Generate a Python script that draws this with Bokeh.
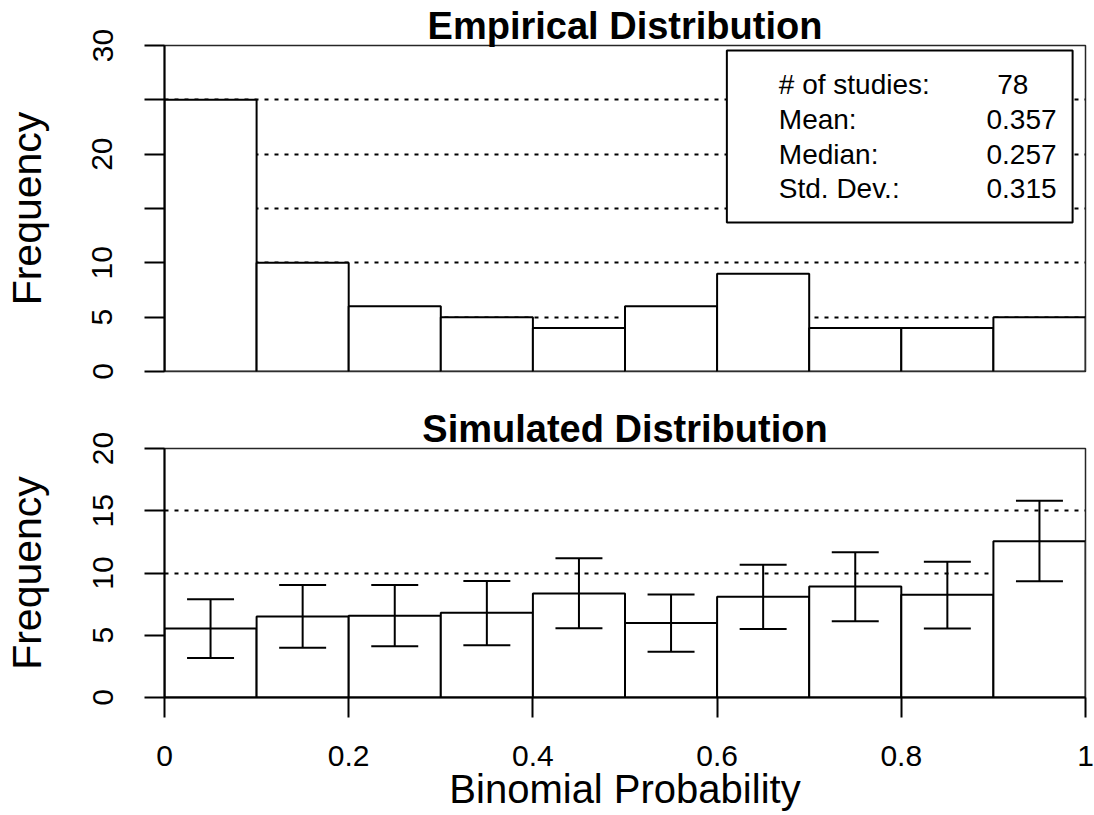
from bokeh.plotting import figure
from bokeh.models import Range1d, FixedTicker, Title
from bokeh.layouts import column
from bokeh.embed import file_html
from bokeh.resources import INLINE
from bokeh.core.properties import value

# ---------------- data ----------------
bin_edges = [0.0, 0.1, 0.2, 0.3, 0.4, 0.5, 0.6, 0.7, 0.8, 0.9, 1.0]
empirical_counts = [25, 10, 6, 5, 4, 6, 9, 4, 4, 5]
sim_means = [5.54, 6.50, 6.56, 6.80, 8.36, 5.99, 8.09, 8.92, 8.25, 12.56]
sim_lower = [3.17, 4.00, 4.11, 4.19, 5.56, 3.68, 5.51, 6.13, 5.54, 9.33]
sim_upper = [7.90, 9.03, 9.03, 9.35, 11.18, 8.28, 10.67, 11.67, 10.91, 15.80]
stat_names = ["# of studies:", "Mean:", "Median:", "Std. Dev.:"]
stat_values = ["78", "0.357", "0.257", "0.315"]
x_ticks = [0, 0.2, 0.4, 0.6, 0.8, 1.0]
x_tick_labels = ["0", "0.2", "0.4", "0.6", "0.8", "1"]
top_y_ticks = [0, 5, 10, 15, 20, 25, 30]
top_y_labels = ["0", "5", "10", "", "20", "", "30"]
bot_y_ticks = [0, 5, 10, 15, 20]
bot_y_labels = ["0", "5", "10", "15", "20"]
top_grid = [5, 10, 15, 20, 25]
bot_grid = [10, 15]

FONT = "Liberation Sans"
lefts = bin_edges[:-1]
rights = bin_edges[1:]
centers = [(a + b) / 2 for a, b in zip(lefts, rights)]


def style_axis(ax, ticks, labels, label_text, label_standoff, tick_standoff, vertical):
    ax.ticker = FixedTicker(ticks=ticks)
    ax.major_label_overrides = {t: l for t, l in zip(ticks, labels)}
    if vertical:
        ax.major_label_orientation = "vertical"
    ax.major_label_text_font = FONT
    ax.major_label_text_font_size = "30px"
    ax.major_label_text_color = "black"
    ax.major_label_standoff = tick_standoff
    ax.major_tick_out = 20
    ax.major_tick_in = 0
    ax.minor_tick_line_color = None
    ax.axis_line_width = 2
    ax.major_tick_line_width = 2
    ax.axis_line_color = "black"
    ax.major_tick_line_color = "black"
    ax.axis_label = label_text
    ax.axis_label_text_font = FONT
    ax.axis_label_text_font_size = "41px" if vertical else "40px"
    ax.axis_label_text_font_style = "normal"
    ax.axis_label_text_color = "black"
    ax.axis_label_standoff = label_standoff


def style_common(p, grid_ticks, title_text):
    p.xgrid.grid_line_color = None
    p.ygrid.ticker = FixedTicker(ticks=grid_ticks)
    p.ygrid.grid_line_color = "black"
    p.ygrid.grid_line_width = 2
    p.ygrid.grid_line_dash = "4 6"
    p.outline_line_color = "black"
    p.outline_line_width = 1.5
    p.outline_line_alpha = 0.85
    p.title = Title(text=title_text, align="center", text_font=FONT,
                    text_font_size="38px", text_font_style="bold",
                    text_color="black", standoff=-2)


# ---------------- top panel ----------------
p1 = figure(width=1094, height=400, x_range=Range1d(0, 1), y_range=Range1d(0, 30),
            x_axis_location=None,
            output_backend="svg", toolbar_location=None,
            min_border_left=163, min_border_right=9,
            min_border_top=45, min_border_bottom=29)
style_axis(p1.yaxis[0], top_y_ticks, top_y_labels, "Frequency", 40, 32, True)
style_common(p1, top_grid, "Empirical Distribution")

p1.quad(left=lefts, right=rights, bottom=0, top=empirical_counts,
        fill_color="white", line_color="black", line_width=2)

# stats box
p1.quad(left=[0.6106], right=[0.986], bottom=[13.71], top=[29.54],
        fill_color="white", line_color="black", line_width=2)
row_y = [26.4, 23.2, 20.0, 16.85]
p1.text(x=[0.667] * 4, y=row_y, text=stat_names, text_font=value(FONT),
        text_font_size="28px", text_align="left", text_baseline="alphabetic",
        text_color="black")
p1.text(x=[0.938, 0.9686, 0.9686, 0.9686], y=row_y, text=stat_values,
        text_font=value(FONT), text_font_size="28px", text_align="right",
        text_baseline="alphabetic", text_color="black")

# ---------------- bottom panel ----------------
p2 = figure(width=1094, height=415, x_range=Range1d(0, 1), y_range=Range1d(0, 20),
            output_backend="svg", toolbar_location=None,
            min_border_left=163, min_border_right=9,
            min_border_top=48, min_border_bottom=118)
style_axis(p2.yaxis[0], bot_y_ticks, bot_y_labels, "Frequency", 40, 32, True)
style_axis(p2.xaxis[0], x_ticks, x_tick_labels, "Binomial Probability", -2, 28, False)
style_common(p2, bot_grid, "Simulated Distribution")

p2.quad(left=lefts, right=rights, bottom=0, top=sim_means,
        fill_color="white", line_color="black", line_width=2)
cap = 0.0255
p2.segment(x0=centers, y0=sim_lower, x1=centers, y1=sim_upper,
           line_color="black", line_width=2)
p2.segment(x0=[c - cap for c in centers], y0=sim_upper,
           x1=[c + cap for c in centers], y1=sim_upper,
           line_color="black", line_width=2)
p2.segment(x0=[c - cap for c in centers], y0=sim_lower,
           x1=[c + cap for c in centers], y1=sim_lower,
           line_color="black", line_width=2)

layout = column(p1, p2, spacing=0)
open("out.html", "w").write(file_html(layout, INLINE))
